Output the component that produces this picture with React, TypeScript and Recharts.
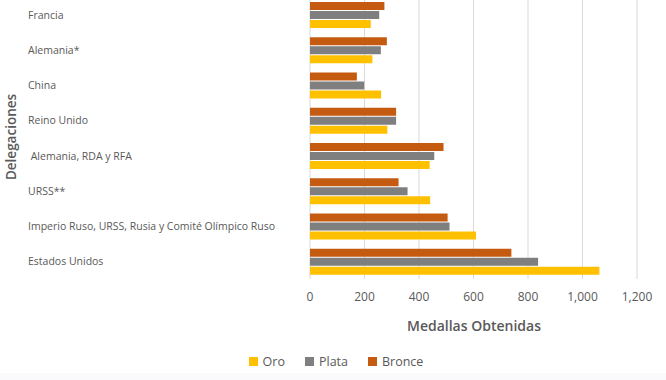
import React from 'react';
import {
  BarChart,
  Bar,
  XAxis,
  YAxis,
  CartesianGrid,
  Legend
} from 'recharts';

const delegaciones = [
  'Francia',
  'Alemania*',
  'China',
  'Reino Unido',
  ' Alemania, RDA y RFA',
  'URSS**',
  'Imperio Ruso, URSS, Rusia y Comité Olímpico Ruso',
  'Estados Unidos'
];
const oro = [223, 229, 261, 284, 439, 441, 609, 1062];
const plata = [254, 260, 199, 316, 456, 358, 512, 837];
const bronce = [273, 282, 172, 316, 490, 325, 505, 739];
const xTicks = [0, 200, 400, 600, 800, 1000, 1200];

const series = [
  { key: 'oro', name: 'Oro', color: '#FFC000' },
  { key: 'plata', name: 'Plata', color: '#7F7F7F' },
  { key: 'bronce', name: 'Bronce', color: '#C55A11' }
];

const data = delegaciones.map((d, i) => ({
  delegacion: d,
  oro: oro[i],
  plata: plata[i],
  bronce: bronce[i]
}));

const font = '"Open Sans", sans-serif';

const CategoryTick = (props: any) => {
  const { y, payload } = props;
  return (
    <text x={28} y={y} dy={4} textAnchor="start" fill="#595959" fontSize={10.5} fontFamily={font} style={{ whiteSpace: 'pre' }}>
      {payload.value}
    </text>
  );
};

const LegendContent = () => (
  <div style={{ display: 'flex', justifyContent: 'center', fontFamily: font, fontSize: 12.5, color: '#595959', paddingLeft: 6 }}>
    {series.map((s, i) => (
      <div key={s.key} style={{ display: 'flex', alignItems: 'center', marginRight: i < 2 ? 20 : 0 }}>
        <span style={{ width: 9, height: 9, background: s.color, display: 'inline-block', marginRight: 5 }} />
        {s.name}
      </div>
    ))}
  </div>
);

const App: React.FC = () => {
  return (
    <div style={{ position: 'absolute', left: 0, top: -3, width: 666, height: 383, background: '#fff' }}>
      <BarChart
        width={666}
        height={383}
        data={data}
        layout="vertical"
        margin={{ top: 0, right: 29, left: 0, bottom: 39 }}
        barSize={8}
        barGap={1}
      >
        <CartesianGrid horizontal={false} stroke="#d9d9d9" />
        <XAxis
          type="number"
          domain={[0, 1200]}
          ticks={xTicks}
          axisLine={false}
          tickLine={false}
          tickMargin={7}
          height={45}
          tick={{ fill: '#595959', fontSize: 12, fontFamily: font }}
          tickFormatter={(v) => v.toLocaleString('en-US')}
        />
        <YAxis
          type="category"
          dataKey="delegacion"
          width={310}
          axisLine={false}
          tickLine={false}
          tick={<CategoryTick />}
        />
        <Legend
          verticalAlign="bottom"
          content={<LegendContent />}
          wrapperStyle={{ top: 356, left: 0, width: 666 }}
        />
        <Bar dataKey="bronce" name="Bronce" fill="#C55A11" isAnimationActive={false} />
        <Bar dataKey="plata" name="Plata" fill="#7F7F7F" isAnimationActive={false} />
        <Bar dataKey="oro" name="Oro" fill="#FFC000" isAnimationActive={false} />
        <text x={474} y={334} textAnchor="middle" fill="#595959" fontSize={14} fontWeight={600} fontFamily={font}>
          Medallas Obtenidas
        </text>
        <text
          x={16}
          y={140}
          transform="rotate(-90 16 140)"
          textAnchor="middle"
          fill="#595959"
          fontSize={13.5}
          fontWeight={600}
          fontFamily={font}
        >
          Delegaciones
        </text>
      </BarChart>
      <div style={{ position: 'absolute', left: 0, top: 376, width: 666, height: 7, background: '#fafafc' }} />
    </div>
  );
};

export default App;
